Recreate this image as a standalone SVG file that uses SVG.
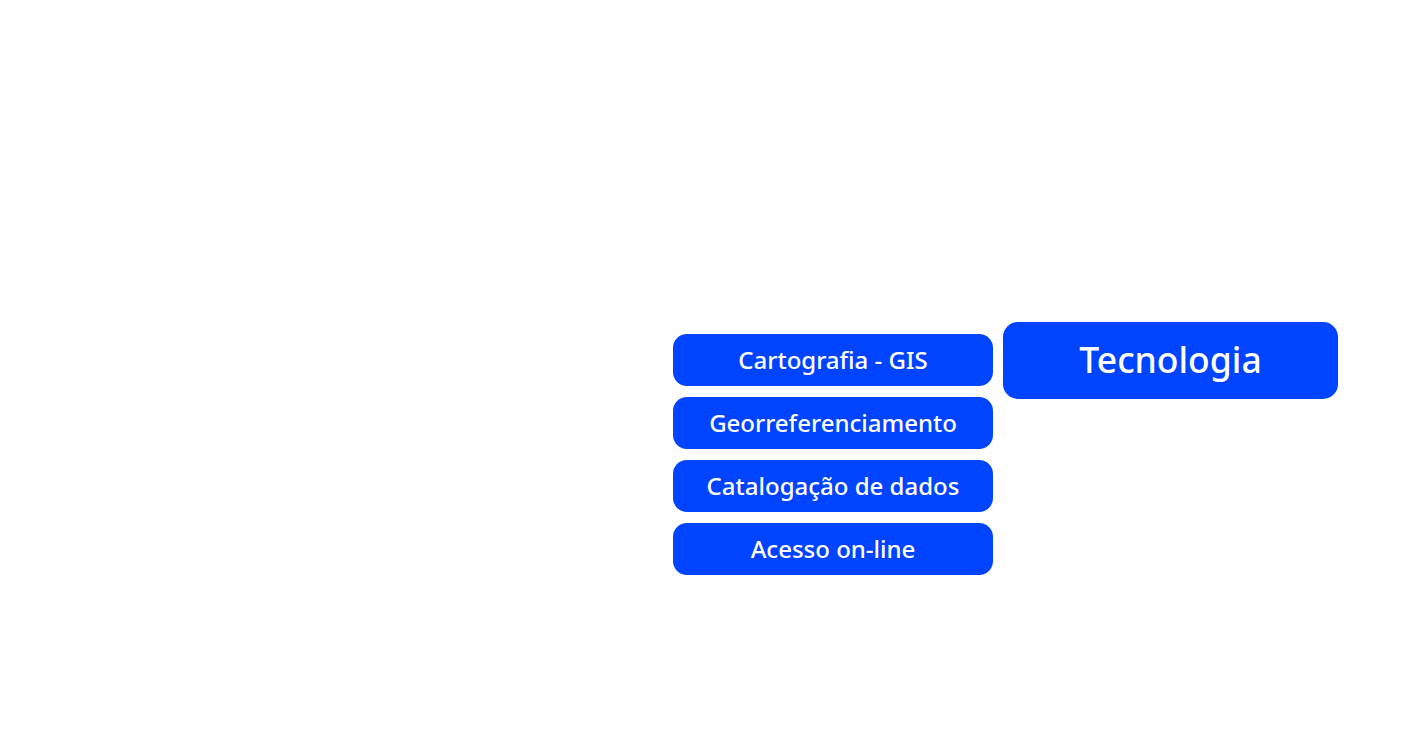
<svg xmlns="http://www.w3.org/2000/svg" width="1423" height="732" viewBox="0 0 1423 732">
<style>
.box{fill:#0044FF;}
.t{fill:#FFFFFF;font-family:"Noto Sans","Open Sans",sans-serif;font-size:24px;font-weight:500;text-anchor:middle;dominant-baseline:central;}
.big{font-size:35.5px;}
</style>
<rect x="0" y="0" width="1423" height="732" fill="#FEFEFE"/>
<g id="connectors"></g>
<g id="cartografia">
<rect class="box" x="673" y="334" width="320" height="52" rx="14"/>
<text class="t" x="833" y="359">Cartografia - GIS</text>
</g>
<g id="georreferenciamento">
<rect class="box" x="673" y="397" width="320" height="52" rx="14"/>
<text class="t" x="833" y="422">Georreferenciamento</text>
</g>
<g id="catalogacao">
<rect class="box" x="673" y="460" width="320" height="52" rx="14"/>
<text class="t" x="833" y="485">Catalogação de dados</text>
</g>
<g id="acesso">
<rect class="box" x="673" y="523" width="320" height="52" rx="14"/>
<text class="t" x="833" y="548">Acesso on-line</text>
</g>
<g id="tecnologia">
<rect class="box" x="1003" y="322" width="335" height="77" rx="15"/>
<text class="t big" x="1170.5" y="359">Tecnologia</text>
</g>
</svg>
